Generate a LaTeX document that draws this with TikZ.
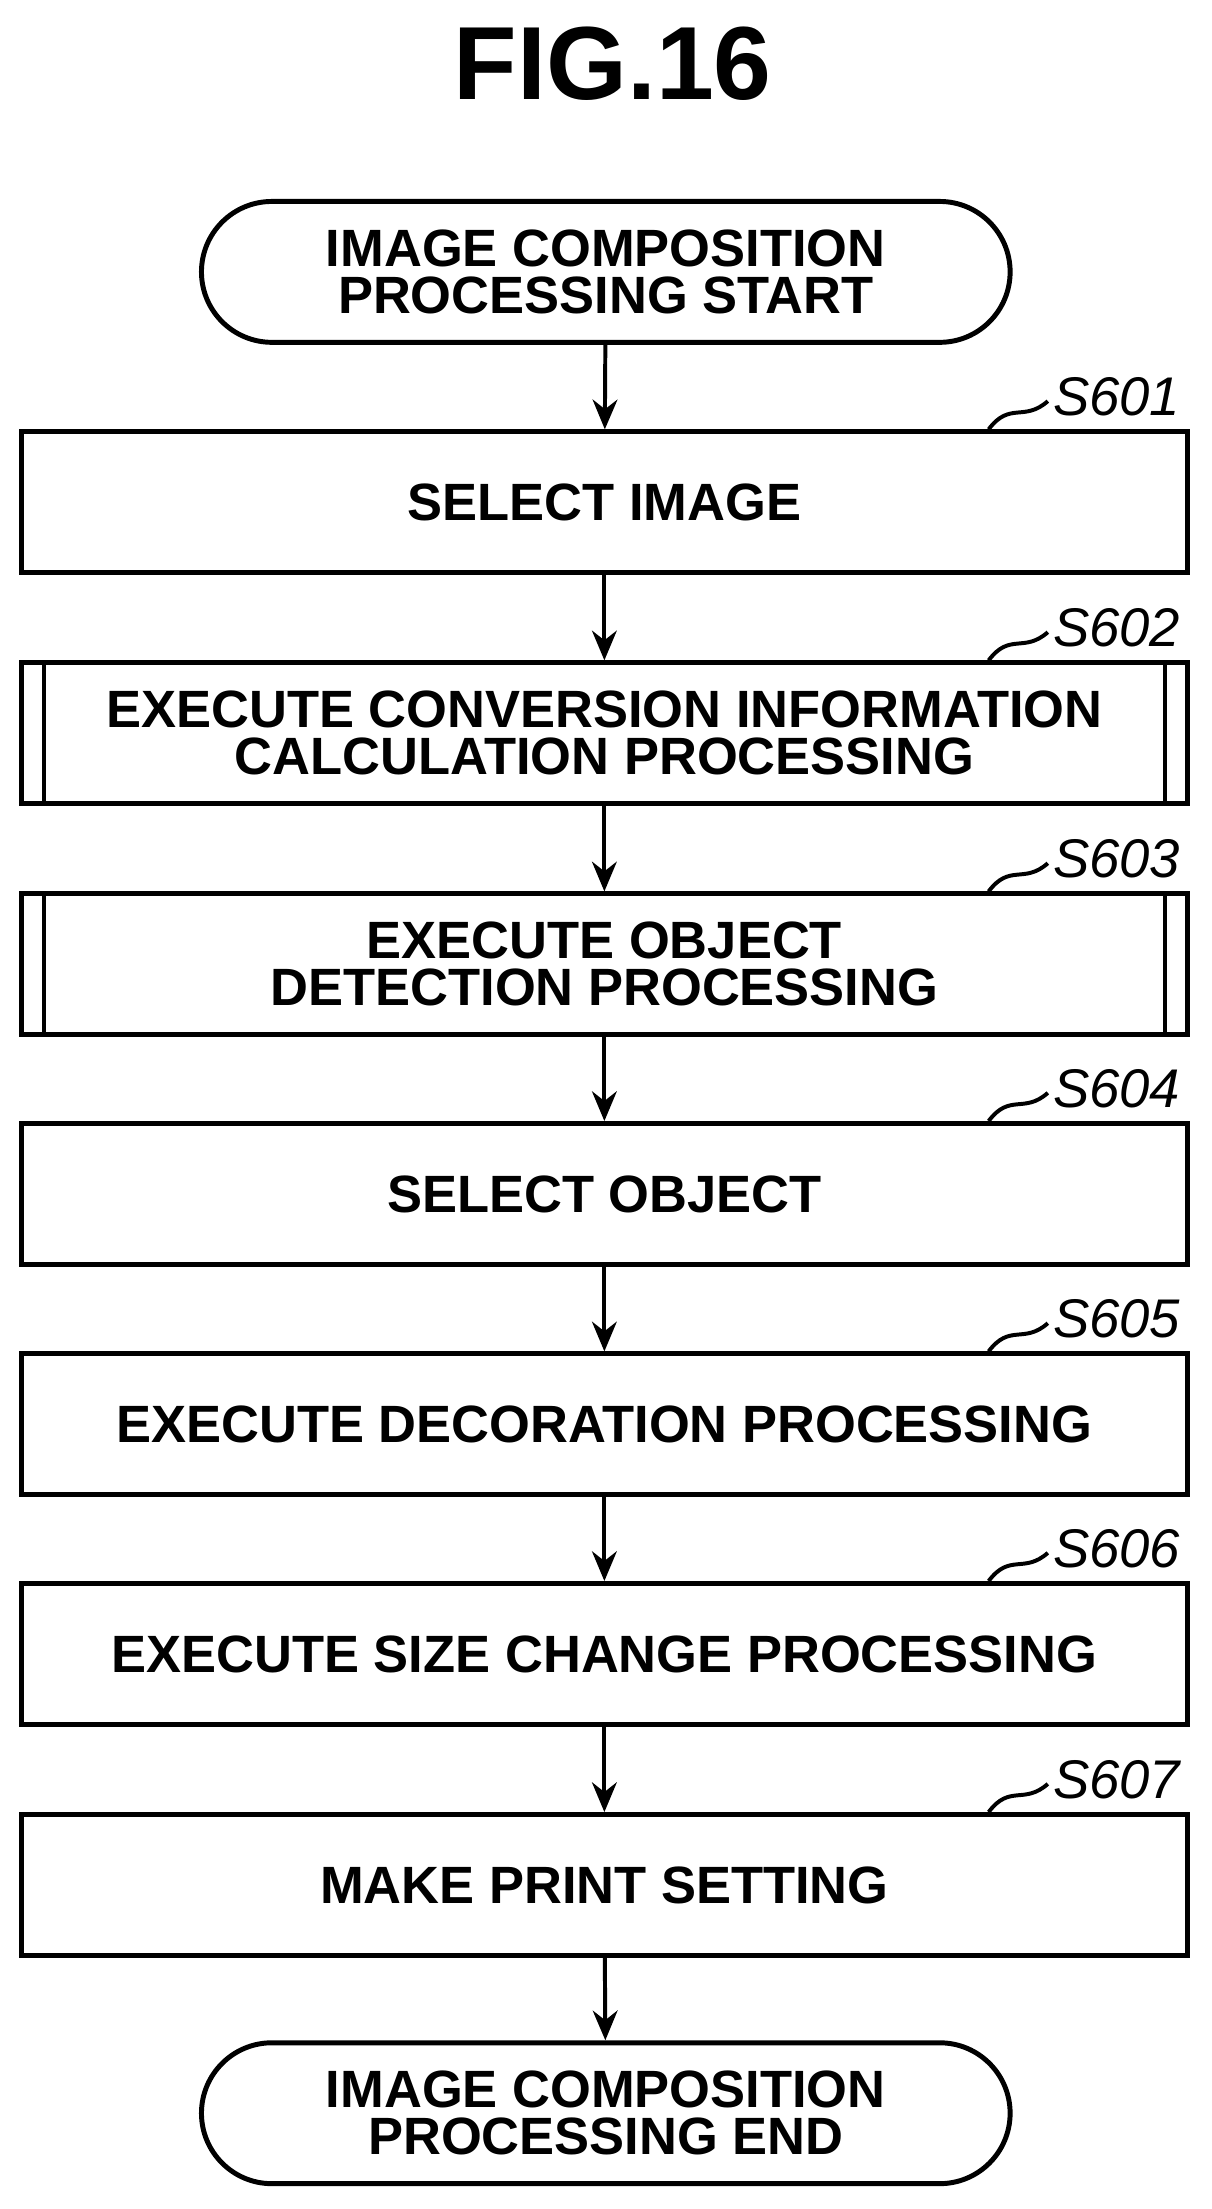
\documentclass[tikz,border=0pt]{standalone}
\usepackage{fontspec}
\setmainfont{Liberation Sans}
\usetikzlibrary{arrows.meta}
\tikzstyle{terminal}=[draw=black,line width=1pt,rounded corners=0.5cm,minimum width=5.74cm,minimum height=1.0cm,align=center,font=\fontsize{10.6}{9.5}\selectfont\bfseries]
\tikzstyle{stepbox}=[draw=black,line width=1pt,minimum width=8.28cm,minimum height=1.0cm,align=center,font=\fontsize{10.6}{9.5}\selectfont\bfseries]
\tikzstyle{flow}=[-{Stealth[length=6pt,width=5pt]},draw=black,line width=0.8pt]
\tikzstyle{steplabel}=[anchor=west,inner sep=0pt,font=\fontsize{11}{11}\selectfont\itshape]
\tikzstyle{leader}=[draw=black,line width=0.8pt]
\begin{document}
\begin{tikzpicture}
	\useasboundingbox (0,0) rectangle (8.60,-15.68);
	\node [font=\fontsize{21}{21}\selectfont\bfseries] (title) at (4.35, -0.45) {FIG.16};
	\node [style=terminal] (start) at (4.30, -1.93) {IMAGE COMPOSITION\\PROCESSING START};
	\node [style=stepbox] (s601) at (4.29, -3.565) {SELECT IMAGE};
	\node [style=stepbox] (s602) at (4.29, -5.205) {EXECUTE CONVERSION INFORMATION\\CALCULATION PROCESSING};
	\node [style=stepbox] (s603) at (4.29, -6.845) {EXECUTE OBJECT\\DETECTION PROCESSING};
	\node [style=stepbox] (s604) at (4.29, -8.475) {SELECT OBJECT};
	\node [style=stepbox] (s605) at (4.29, -10.11) {EXECUTE DECORATION PROCESSING};
	\node [style=stepbox] (s606) at (4.29, -11.74) {EXECUTE SIZE CHANGE PROCESSING};
	\node [style=stepbox] (s607) at (4.29, -13.38) {MAKE PRINT SETTING};
	\node [style=terminal] (end) at (4.30, -15.00) {IMAGE COMPOSITION\\PROCESSING END};
	% subroutine bars
	\foreach \n in {s602,s603} {
		\draw [line width=0.8pt] ([xshift=0.18cm]\n.north west) -- ([xshift=0.18cm]\n.south west);
		\draw [line width=0.8pt] ([xshift=-0.18cm]\n.north east) -- ([xshift=-0.18cm]\n.south east);
	}
	% step numbers
	\foreach \n/\t in {s601/S601,s602/S602,s603/S603,s604/S604,s605/S605,s606/S606,s607/S607} {
		\coordinate (\n-l) at ([xshift=-1.43cm]\n.north east);
		\draw [style=leader] (\n-l) .. controls ([xshift=0.15cm,yshift=0.2cm]\n-l) and ([xshift=0.25cm,yshift=0.05cm]\n-l) .. ([xshift=0.42cm,yshift=0.2cm]\n-l);
		\node [style=steplabel] (\n-t) at ([xshift=0.45cm,yshift=0.23cm]\n-l) {\t};
	}
	\draw [style=flow] (start) to (s601);
	\draw [style=flow] (s601) to (s602);
	\draw [style=flow] (s602) to (s603);
	\draw [style=flow] (s603) to (s604);
	\draw [style=flow] (s604) to (s605);
	\draw [style=flow] (s605) to (s606);
	\draw [style=flow] (s606) to (s607);
	\draw [style=flow] (s607) to (end);
\end{tikzpicture}
\end{document}
